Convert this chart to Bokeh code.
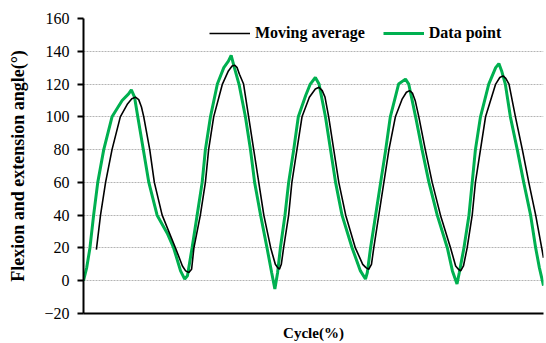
from bokeh.plotting import figure
from bokeh.models import Range1d, FixedTicker, Legend, LegendItem
from bokeh.embed import file_html
from bokeh.resources import INLINE

# Data point (raw knee angle) series, Cycle(%) vs angle
data_x = [0, 0.7, 1.4, 2.2, 3.1, 4.4, 6.2, 8.4, 9.8, 10.4, 11.1, 11.8, 13.0, 14.2, 16.0, 18.2, 19.6,
          21.1, 22.0, 22.6, 23.6, 24.7, 25.8, 26.5, 27.6, 29.1, 30.5, 31.5, 32.1, 32.8, 33.8, 35.2,
          36.3, 37.2, 38.5, 39.9, 40.9, 41.6, 42.2, 42.8, 43.8, 44.6, 45.7, 46.7, 48.3, 49.3, 50.4,
          51.2, 52.6, 53.7, 54.8, 56.2, 58.4, 60.2, 61.3, 61.7, 62.4, 63.5, 64.6, 65.7, 66.7, 68.5,
          70.0, 70.7, 72.2, 73.6, 75.1, 76.9, 79.1, 80.2, 81.2, 81.7, 82.7, 83.8, 84.5, 85.2, 86.3,
          88.1, 89.6, 90.3, 90.9, 91.7, 92.8, 94.3, 95.7, 97.2, 98.3, 99.1, 100]
data_y = [0, 8, 20, 40, 60, 80, 100, 110, 114, 116.5, 112, 100, 80, 60, 40, 29, 20,
          6, 1, 3, 20, 40, 60, 80, 100, 120, 130, 134, 137.5, 130, 120, 100,
          80, 60, 40, 20, 5, -5, 5, 20, 40, 60, 80, 100, 113, 120, 124,
          120, 100, 80, 60, 40, 20, 6, 1, 5, 20, 40, 60, 80, 100, 120,
          123, 120, 100, 80, 60, 40, 20, 6, -2, 5, 20, 40, 60, 80, 100,
          120, 130, 132.5, 128, 120, 100, 80, 60, 40, 20, 8, -3]

# Moving average series
avg_x = [2.8, 3.7, 4.8, 6.2, 8.0, 9.6, 10.5, 11.3, 12.0, 12.6, 13.1, 14.4, 15.4, 17.1, 20.0, 21.5,
         22.2, 22.9, 23.5, 24.0, 25.4, 26.5, 27.2, 28.3, 30.2, 31.5, 32.3, 32.9, 33.4, 33.9, 34.8,
         35.9, 37.0, 38.1, 39.2, 40.7, 41.7, 42.2, 42.6, 43.0, 43.5, 44.6, 45.3, 46.4, 47.5, 49.1,
         50.4, 51.2, 51.9, 52.5, 53.3, 54.4, 55.5, 57.0, 59.1, 60.7, 61.4, 62.0, 62.6, 63.1, 64.2,
         65.3, 66.4, 67.8, 69.3, 70.2, 70.9, 71.5, 72.1, 72.9, 74.3, 75.8, 77.6, 79.8, 80.9, 81.5,
         82.0, 82.6, 83.4, 84.5, 85.2, 86.3, 87.4, 89.6, 90.5, 91.2, 91.8, 92.5, 93.9, 95.4, 96.8,
         98.3, 100]
avg_y = [19, 40, 60, 80, 100, 108, 111, 112, 110.5, 106, 100, 80, 60, 40, 20, 9,
         6, 5, 7, 20, 40, 60, 80, 100, 120, 128, 131, 131.5, 130, 126, 120,
         100, 80, 60, 40, 20, 10, 8, 7, 10, 20, 40, 60, 80, 100, 112,
         117, 118, 116, 112, 100, 80, 60, 40, 20, 10, 8, 7, 10, 20, 40,
         60, 80, 100, 111, 115, 116, 114.5, 110, 100, 80, 60, 40, 20, 9, 7,
         6, 9, 20, 40, 60, 80, 100, 120, 124, 125, 123.5, 120, 100, 80, 60,
         40, 14]

y_ticks = [-20, 0, 20, 40, 60, 80, 100, 120, 140, 160]
x_title = "Cycle(%)"
y_title = "Flexion and extension angle(°)"
legend_labels = ["Moving average", "Data point"]

SERIF = "Liberation Serif"

p = figure(width=546, height=343, output_backend="svg", toolbar_location=None,
           x_range=Range1d(0, 100), y_range=Range1d(-20, 160),
           min_border_left=83, min_border_right=3, min_border_top=18, min_border_bottom=30)
p.outline_line_color = None
p.background_fill_color = "white"

# grid
p.xgrid.visible = False
p.ygrid.ticker = FixedTicker(ticks=y_ticks)
p.ygrid.grid_line_color = "#b4b4b4"
p.ygrid.grid_line_dash = "2 1"
p.ygrid.grid_line_width = 1

# y axis
p.yaxis.ticker = FixedTicker(ticks=y_ticks)
p.yaxis.axis_line_color = "black"
p.yaxis.axis_line_width = 2
p.yaxis.major_tick_line_color = "black"
p.yaxis.major_tick_line_width = 2
p.yaxis.major_tick_out = 6
p.yaxis.major_tick_in = 0
p.yaxis.minor_tick_line_color = None
p.yaxis.major_label_text_font = SERIF
p.yaxis.major_label_text_font_size = "16px"
p.yaxis.major_label_text_color = "black"
p.yaxis.major_label_standoff = 8
p.yaxis.axis_label = y_title
p.yaxis.axis_label_text_font = SERIF
p.yaxis.axis_label_text_font_style = "bold"
p.yaxis.axis_label_text_font_size = "18px"
p.yaxis.axis_label_text_color = "black"
p.yaxis.axis_label_standoff = 13

# x axis: line and title only
p.xaxis.ticker = FixedTicker(ticks=[50])
p.xaxis.major_label_overrides = {50: " "}
p.xaxis.axis_line_color = "black"
p.xaxis.axis_line_width = 2
p.xaxis.major_tick_line_color = None
p.xaxis.major_tick_out = 0
p.xaxis.major_tick_in = 0
p.xaxis.minor_tick_line_color = None
p.xaxis.major_label_standoff = 0
p.xaxis.major_label_text_font_size = "1px"
p.xaxis.axis_label = x_title
p.xaxis.axis_label_text_font = SERIF
p.xaxis.axis_label_text_font_style = "bold"
p.xaxis.axis_label_text_font_size = "15px"
p.xaxis.axis_label_text_color = "black"
p.xaxis.axis_label_standoff = 7

r_data = p.line(data_x, data_y, line_color="#00B050", line_width=3)
r_avg = p.line(avg_x, avg_y, line_color="black", line_width=1.6)

legend = Legend(items=[LegendItem(label=legend_labels[0], renderers=[r_avg]),
                       LegendItem(label=legend_labels[1], renderers=[r_data])],
                orientation="horizontal", location=(126, 270),
                padding=0, margin=0, spacing=18, label_standoff=5,
                glyph_width=41, glyph_height=20, label_height=20,
                border_line_color=None, background_fill_alpha=0,
                label_text_font=SERIF, label_text_font_style="bold",
                label_text_font_size="16px", label_text_color="black")
p.add_layout(legend)

open("out.html", "w").write(file_html(p, INLINE))
